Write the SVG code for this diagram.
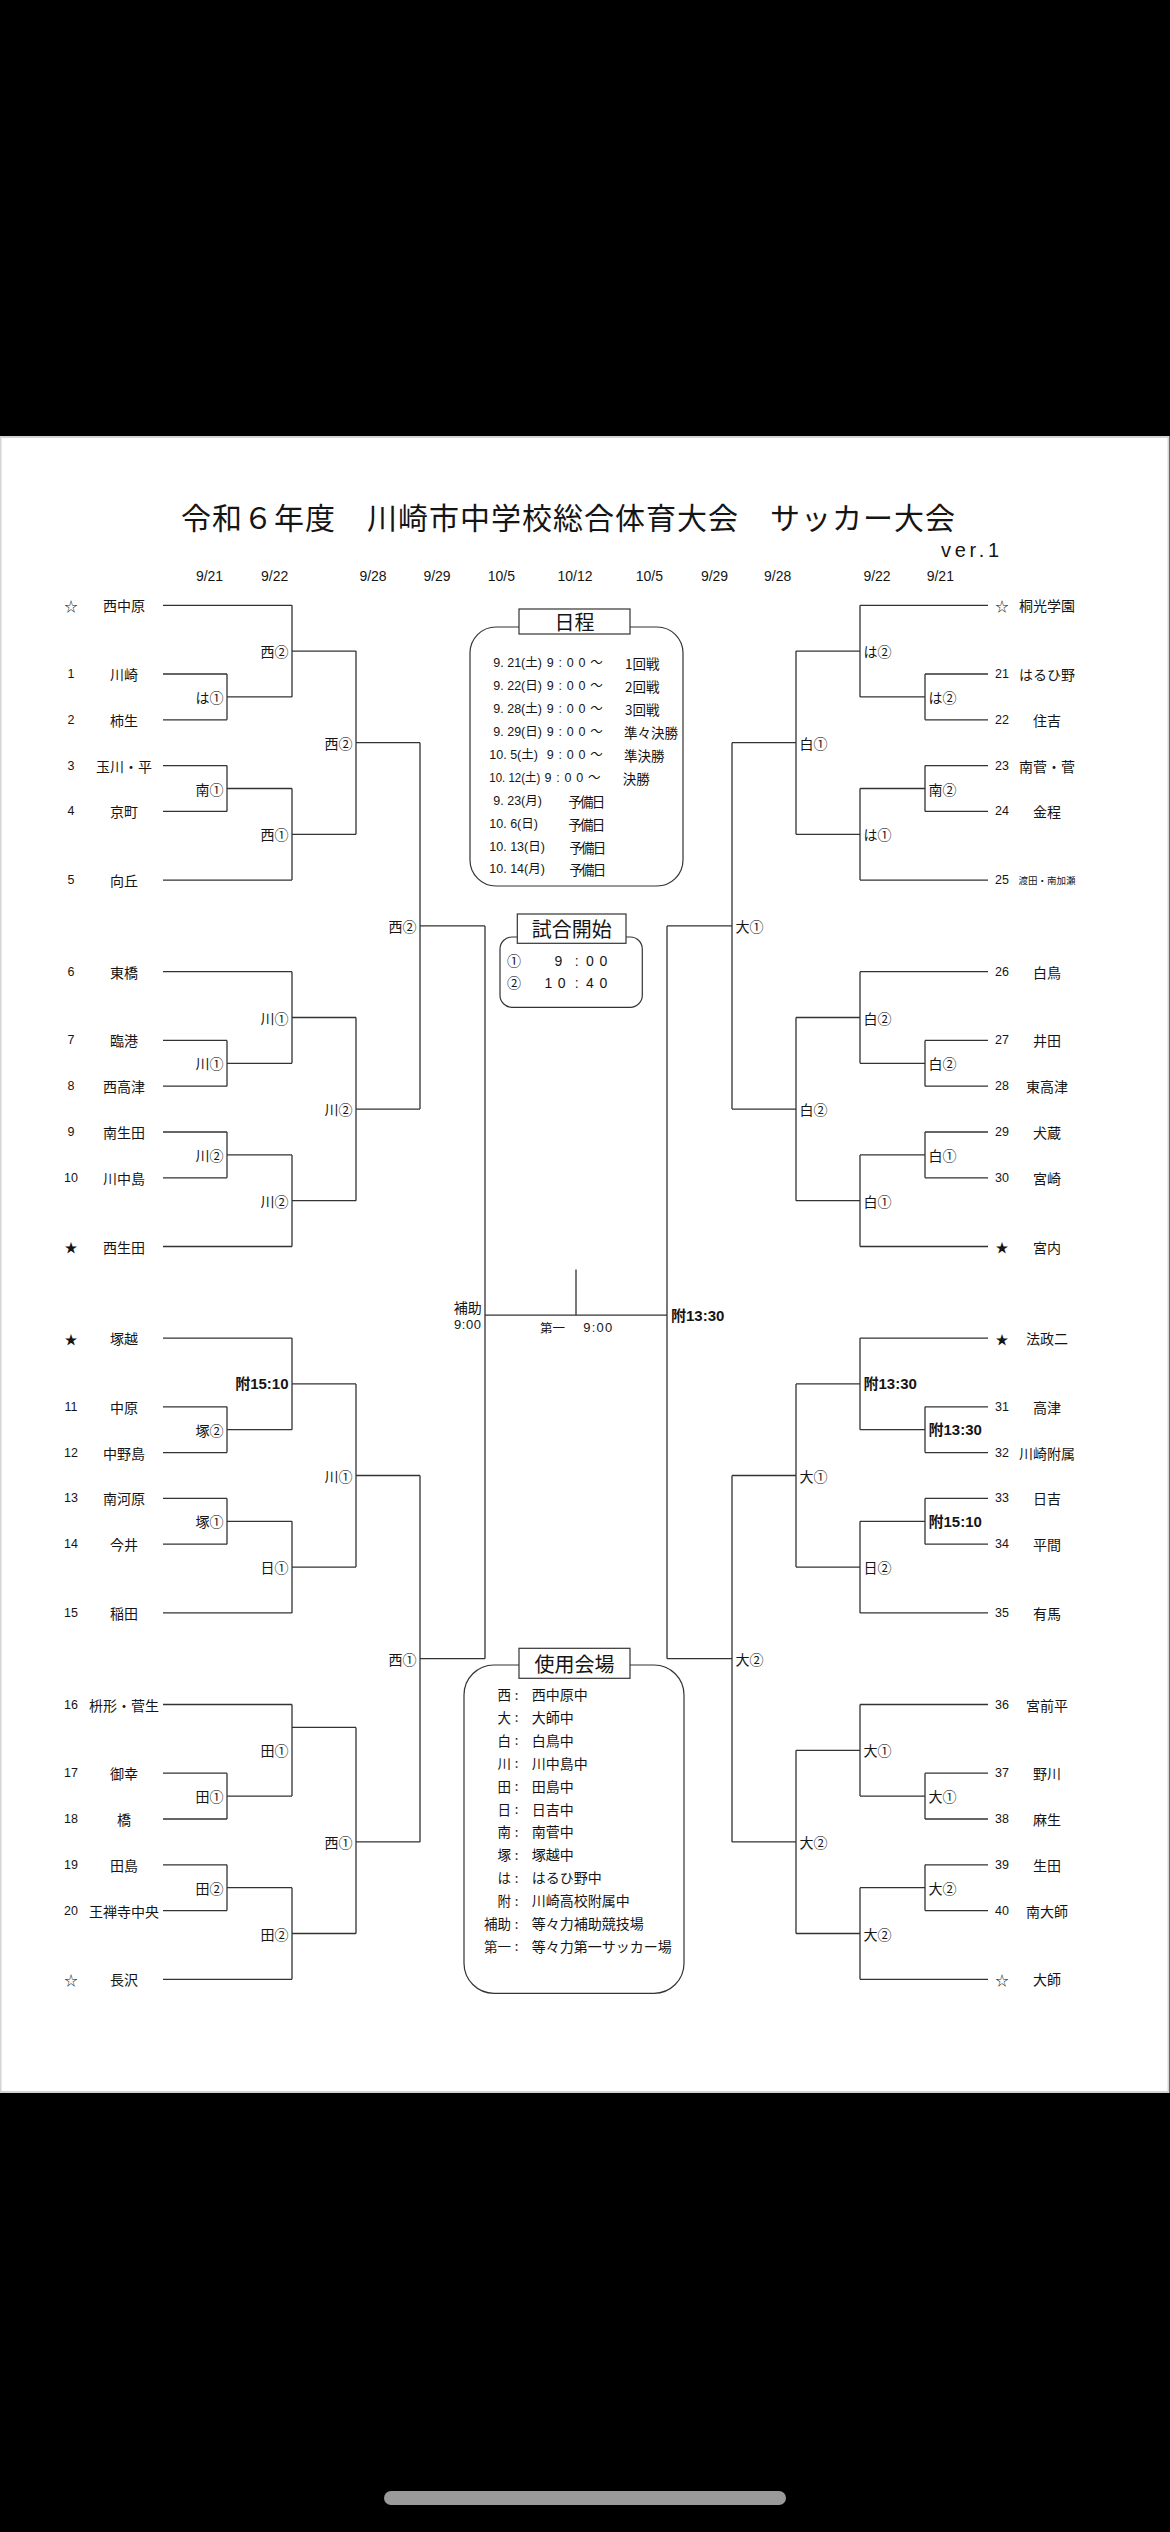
<svg xmlns="http://www.w3.org/2000/svg" width="1170" height="2532" viewBox="0 0 1170 2532">
<style>
text{fill:#151515}
.ln{fill:none;stroke:#333;stroke-width:1.3}
.box{fill:#fff;stroke:#333;stroke-width:1.2}
.nm{font-family:"Noto Sans CJK JP",sans-serif;font-size:14px;text-anchor:middle;dominant-baseline:central}
.sm{font-family:"Noto Sans CJK JP",sans-serif;font-size:9.5px;text-anchor:middle;dominant-baseline:central}
.no{font-family:"Liberation Sans","Noto Sans CJK JP",sans-serif;font-size:12.5px;text-anchor:middle;dominant-baseline:central}
.mk{font-family:"Noto Sans CJK JP",sans-serif;font-size:13px;text-anchor:middle;dominant-baseline:central}
.jl{font-family:"Noto Sans CJK JP",sans-serif;font-size:14px;text-anchor:end;dominant-baseline:central}
.jr{font-family:"Noto Sans CJK JP",sans-serif;font-size:14px;text-anchor:start;dominant-baseline:central}
.bl{font-family:"Liberation Sans","Noto Sans CJK JP",sans-serif;font-weight:bold;font-size:15px;text-anchor:end;dominant-baseline:central}
.br{font-family:"Liberation Sans","Noto Sans CJK JP",sans-serif;font-weight:bold;font-size:15px;text-anchor:start;dominant-baseline:central}
.dt{font-family:"Liberation Sans",sans-serif;font-size:14px;text-anchor:middle;dominant-baseline:central}
.sc{font-family:"Noto Sans CJK JP",sans-serif;font-size:13.5px;dominant-baseline:central}
.sd{font-family:"Liberation Sans","Noto Sans CJK JP",sans-serif;font-size:12.5px;dominant-baseline:central}
.sn{font-family:"Liberation Sans","Noto Sans CJK JP",sans-serif;font-size:14px;text-anchor:middle;dominant-baseline:central}
.hd{font-family:"Noto Sans CJK JP",sans-serif;font-size:20px;text-anchor:middle;dominant-baseline:central}
.vn{font-family:"Noto Sans CJK JP",sans-serif;font-size:14px;dominant-baseline:central}
.vc{font-family:"Noto Sans CJK JP",sans-serif;font-size:13px;text-anchor:middle;dominant-baseline:central}
.va{font-family:"Noto Sans CJK JP",sans-serif;font-size:13.5px;text-anchor:end;dominant-baseline:central}
</style>
<rect x="0" y="0" width="1170" height="2532" fill="#000"/>
<rect x="0.5" y="437" width="1168" height="1655" fill="#fff" stroke="#d4d4d4" stroke-width="2"/>
<rect x="384" y="2491" width="402" height="14" rx="7" fill="#9a9a9a"/>

<g id="title">
<text x="181" y="516" font-family="Noto Sans CJK JP, sans-serif" font-size="30" dominant-baseline="central" textLength="774" lengthAdjust="spacing">令和６年度　川崎市中学校総合体育大会　サッカー大会</text>
<text x="941" y="550" font-family="Liberation Sans, sans-serif" font-size="20" dominant-baseline="central" textLength="58" lengthAdjust="spacing">ver.1</text>
</g>

<g id="dates">
<text class="dt" x="209.5" y="576">9/21</text>
<text class="dt" x="274.6" y="576">9/22</text>
<text class="dt" x="373" y="576">9/28</text>
<text class="dt" x="437" y="576">9/29</text>
<text class="dt" x="501.3" y="576">10/5</text>
<text class="dt" x="575" y="576">10/12</text>
<text class="dt" x="649.4" y="576">10/5</text>
<text class="dt" x="714.5" y="576">9/29</text>
<text class="dt" x="777.6" y="576">9/28</text>
<text class="dt" x="877" y="576">9/22</text>
<text class="dt" x="940.3" y="576">9/21</text>
</g>

<g id="connectors" class="ln">
<path d="M163 605.3H292M163 674H227M163 719.8H227M163 765.6H227M163 811.4H227M163 880.1H292M163 971.7H292M163 1040.4H227M163 1086.2H227M163 1132H227M163 1177.8H227M163 1246.5H292M163 1338.1H292M163 1406.8H227M163 1452.6H227M163 1498.4H227M163 1544.2H227M163 1612.9H292M163 1704.5H292M163 1773.2H227M163 1819H227M163 1864.8H227M163 1910.6H227M163 1979.3H292"/>
<path d="M227 674V719.8M227 696.9H292M227 765.6V811.4M227 788.5H292M227 1040.4V1086.2M227 1063.3H292M227 1132V1177.8M227 1154.9H292M227 1406.8V1452.6M227 1429.7H292M227 1498.4V1544.2M227 1521.3H292M227 1773.2V1819M227 1796.1H292M227 1864.8V1910.6M227 1887.7H292"/>
<path d="M292 605.3V696.9M292 651.1H356M292 788.5V880.1M292 834.3H356M292 971.7V1063.3M292 1017.5H356M292 1154.9V1246.5M292 1200.7H356M292 1338.1V1429.7M292 1383.9H356M292 1521.3V1612.9M292 1567.1H356M292 1704.5V1796.1M292 1727.4H356M292 1887.7V1979.3M292 1933.5H356"/>
<path d="M356 651.1V834.3M356 742.7H420M356 1017.5V1200.7M356 1109.1H420M356 1383.9V1567.1M356 1475.5H420M356 1727.4V1933.5M356 1841.9H420"/>
<path d="M420 742.7V1109.1M420 925.9H485M420 1475.5V1841.9M420 1658.7H485"/>
<path d="M485 925.9V1658.7M667 925.9V1658.7M485 1315.2H667M576 1269.4V1315.2"/>
<path d="M988 605.3H860M988 674H925M988 719.8H925M988 765.6H925M988 811.4H925M988 880.1H860M988 971.7H860M988 1040.4H925M988 1086.2H925M988 1132H925M988 1177.8H925M988 1246.5H860M988 1338.1H860M988 1406.8H925M988 1452.6H925M988 1498.4H925M988 1544.2H925M988 1612.9H860M988 1704.5H860M988 1773.2H925M988 1819H925M988 1864.8H925M988 1910.6H925M988 1979.3H860"/>
<path d="M925 674V719.8M925 696.9H860M925 765.6V811.4M925 788.5H860M925 1040.4V1086.2M925 1063.3H860M925 1132V1177.8M925 1154.9H860M925 1406.8V1452.6M925 1429.7H860M925 1498.4V1544.2M925 1521.3H860M925 1773.2V1819M925 1796.1H860M925 1864.8V1910.6M925 1887.7H860"/>
<path d="M860 605.3V696.9M860 651.1H796M860 788.5V880.1M860 834.3H796M860 971.7V1063.3M860 1017.5H796M860 1154.9V1246.5M860 1200.7H796M860 1338.1V1429.7M860 1383.9H796M860 1521.3V1612.9M860 1567.1H796M860 1704.5V1796.1M860 1750.3H796M860 1887.7V1979.3M860 1933.5H796"/>
<path d="M796 651.1V834.3M796 742.7H732M796 1017.5V1200.7M796 1109.1H732M796 1383.9V1567.1M796 1475.5H732M796 1750.3V1933.5M796 1841.9H732"/>
<path d="M732 742.7V1109.1M732 925.9H667M732 1475.5V1841.9M732 1658.7H667"/>
</g>

<g id="teams-left">
<g id="tl-nishinakahara"><text class="mk" x="71" y="605.3">☆</text><text class="nm" x="124" y="605.3">西中原</text></g>
<g id="tl-1"><text class="no" x="71" y="674">1</text><text class="nm" x="124" y="674">川崎</text></g>
<g id="tl-2"><text class="no" x="71" y="719.8">2</text><text class="nm" x="124" y="719.8">柿生</text></g>
<g id="tl-3"><text class="no" x="71" y="765.6">3</text><text class="nm" x="124" y="765.6">玉川・平</text></g>
<g id="tl-4"><text class="no" x="71" y="811.4">4</text><text class="nm" x="124" y="811.4">京町</text></g>
<g id="tl-5"><text class="no" x="71" y="880.1">5</text><text class="nm" x="124" y="880.1">向丘</text></g>
<g id="tl-6"><text class="no" x="71" y="971.7">6</text><text class="nm" x="124" y="971.7">東橋</text></g>
<g id="tl-7"><text class="no" x="71" y="1040.4">7</text><text class="nm" x="124" y="1040.4">臨港</text></g>
<g id="tl-8"><text class="no" x="71" y="1086.2">8</text><text class="nm" x="124" y="1086.2">西高津</text></g>
<g id="tl-9"><text class="no" x="71" y="1132">9</text><text class="nm" x="124" y="1132">南生田</text></g>
<g id="tl-10"><text class="no" x="71" y="1177.8">10</text><text class="nm" x="124" y="1177.8">川中島</text></g>
<g id="tl-nishiikuta"><text class="mk" x="71" y="1246.5">★</text><text class="nm" x="124" y="1246.5">西生田</text></g>
<g id="tl-tsukagoshi"><text class="mk" x="71" y="1338.1">★</text><text class="nm" x="124" y="1338.1">塚越</text></g>
<g id="tl-11"><text class="no" x="71" y="1406.8">11</text><text class="nm" x="124" y="1406.8">中原</text></g>
<g id="tl-12"><text class="no" x="71" y="1452.6">12</text><text class="nm" x="124" y="1452.6">中野島</text></g>
<g id="tl-13"><text class="no" x="71" y="1498.4">13</text><text class="nm" x="124" y="1498.4">南河原</text></g>
<g id="tl-14"><text class="no" x="71" y="1544.2">14</text><text class="nm" x="124" y="1544.2">今井</text></g>
<g id="tl-15"><text class="no" x="71" y="1612.9">15</text><text class="nm" x="124" y="1612.9">稲田</text></g>
<g id="tl-16"><text class="no" x="71" y="1704.5">16</text><text class="nm" x="124" y="1704.5">枡形・菅生</text></g>
<g id="tl-17"><text class="no" x="71" y="1773.2">17</text><text class="nm" x="124" y="1773.2">御幸</text></g>
<g id="tl-18"><text class="no" x="71" y="1819">18</text><text class="nm" x="124" y="1819">橋</text></g>
<g id="tl-19"><text class="no" x="71" y="1864.8">19</text><text class="nm" x="124" y="1864.8">田島</text></g>
<g id="tl-20"><text class="no" x="71" y="1910.6">20</text><text class="nm" x="124" y="1910.6">王禅寺中央</text></g>
<g id="tl-nagasawa"><text class="mk" x="71" y="1979.3">☆</text><text class="nm" x="124" y="1979.3">長沢</text></g>
</g>

<g id="teams-right">
<g id="tr-toko"><text class="mk" x="1002" y="605.3">☆</text><text class="nm" x="1047" y="605.3">桐光学園</text></g>
<g id="tr-21"><text class="no" x="1002" y="674">21</text><text class="nm" x="1047" y="674">はるひ野</text></g>
<g id="tr-22"><text class="no" x="1002" y="719.8">22</text><text class="nm" x="1047" y="719.8">住吉</text></g>
<g id="tr-23"><text class="no" x="1002" y="765.6">23</text><text class="nm" x="1047" y="765.6">南菅・菅</text></g>
<g id="tr-24"><text class="no" x="1002" y="811.4">24</text><text class="nm" x="1047" y="811.4">金程</text></g>
<g id="tr-25"><text class="no" x="1002" y="880.1">25</text><text class="sm" x="1047" y="880.1">渡田・南加瀬</text></g>
<g id="tr-26"><text class="no" x="1002" y="971.7">26</text><text class="nm" x="1047" y="971.7">白鳥</text></g>
<g id="tr-27"><text class="no" x="1002" y="1040.4">27</text><text class="nm" x="1047" y="1040.4">井田</text></g>
<g id="tr-28"><text class="no" x="1002" y="1086.2">28</text><text class="nm" x="1047" y="1086.2">東高津</text></g>
<g id="tr-29"><text class="no" x="1002" y="1132">29</text><text class="nm" x="1047" y="1132">犬蔵</text></g>
<g id="tr-30"><text class="no" x="1002" y="1177.8">30</text><text class="nm" x="1047" y="1177.8">宮崎</text></g>
<g id="tr-miyauchi"><text class="mk" x="1002" y="1246.5">★</text><text class="nm" x="1047" y="1246.5">宮内</text></g>
<g id="tr-hosei"><text class="mk" x="1002" y="1338.1">★</text><text class="nm" x="1047" y="1338.1">法政二</text></g>
<g id="tr-31"><text class="no" x="1002" y="1406.8">31</text><text class="nm" x="1047" y="1406.8">高津</text></g>
<g id="tr-32"><text class="no" x="1002" y="1452.6">32</text><text class="nm" x="1047" y="1452.6">川崎附属</text></g>
<g id="tr-33"><text class="no" x="1002" y="1498.4">33</text><text class="nm" x="1047" y="1498.4">日吉</text></g>
<g id="tr-34"><text class="no" x="1002" y="1544.2">34</text><text class="nm" x="1047" y="1544.2">平間</text></g>
<g id="tr-35"><text class="no" x="1002" y="1612.9">35</text><text class="nm" x="1047" y="1612.9">有馬</text></g>
<g id="tr-36"><text class="no" x="1002" y="1704.5">36</text><text class="nm" x="1047" y="1704.5">宮前平</text></g>
<g id="tr-37"><text class="no" x="1002" y="1773.2">37</text><text class="nm" x="1047" y="1773.2">野川</text></g>
<g id="tr-38"><text class="no" x="1002" y="1819">38</text><text class="nm" x="1047" y="1819">麻生</text></g>
<g id="tr-39"><text class="no" x="1002" y="1864.8">39</text><text class="nm" x="1047" y="1864.8">生田</text></g>
<g id="tr-40"><text class="no" x="1002" y="1910.6">40</text><text class="nm" x="1047" y="1910.6">南大師</text></g>
<g id="tr-daishi"><text class="mk" x="1002" y="1979.3">☆</text><text class="nm" x="1047" y="1979.3">大師</text></g>
</g>

<g id="matches-left">
<g id="ml1-a"><text class="jl" x="223.5" y="696.9">は①</text></g>
<g id="ml1-b"><text class="jl" x="223.5" y="788.5">南①</text></g>
<g id="ml1-c"><text class="jl" x="223.5" y="1063.3">川①</text></g>
<g id="ml1-d"><text class="jl" x="223.5" y="1154.9">川②</text></g>
<g id="ml1-e"><text class="jl" x="223.5" y="1429.7">塚②</text></g>
<g id="ml1-f"><text class="jl" x="223.5" y="1521.3">塚①</text></g>
<g id="ml1-g"><text class="jl" x="223.5" y="1796.1">田①</text></g>
<g id="ml1-h"><text class="jl" x="223.5" y="1887.7">田②</text></g>
<g id="ml2-a"><text class="jl" x="288.5" y="651.1">西②</text></g>
<g id="ml2-b"><text class="jl" x="288.5" y="834.3">西①</text></g>
<g id="ml2-c"><text class="jl" x="288.5" y="1017.5">川①</text></g>
<g id="ml2-d"><text class="jl" x="288.5" y="1200.7">川②</text></g>
<g id="ml2-e"><text class="bl" x="288.5" y="1383.9">附15:10</text></g>
<g id="ml2-f"><text class="jl" x="288.5" y="1567.1">日①</text></g>
<g id="ml2-g"><text class="jl" x="288.5" y="1750.3">田①</text></g>
<g id="ml2-h"><text class="jl" x="288.5" y="1933.5">田②</text></g>
<g id="ml3-a"><text class="jl" x="352.5" y="742.7">西②</text></g>
<g id="ml3-b"><text class="jl" x="352.5" y="1109.1">川②</text></g>
<g id="ml3-c"><text class="jl" x="352.5" y="1475.5">川①</text></g>
<g id="ml3-d"><text class="jl" x="352.5" y="1841.9">西①</text></g>
<g id="ml4-a"><text class="jl" x="416.5" y="925.9">西②</text></g>
<g id="ml4-b"><text class="jl" x="416.5" y="1658.7">西①</text></g>
</g>

<g id="matches-right">
<g id="mr1-a"><text class="jr" x="928.5" y="696.9">は②</text></g>
<g id="mr1-b"><text class="jr" x="928.5" y="788.5">南②</text></g>
<g id="mr1-c"><text class="jr" x="928.5" y="1063.3">白②</text></g>
<g id="mr1-d"><text class="jr" x="928.5" y="1154.9">白①</text></g>
<g id="mr1-e"><text class="br" x="928.5" y="1429.7">附13:30</text></g>
<g id="mr1-f"><text class="br" x="928.5" y="1521.3">附15:10</text></g>
<g id="mr1-g"><text class="jr" x="928.5" y="1796.1">大①</text></g>
<g id="mr1-h"><text class="jr" x="928.5" y="1887.7">大②</text></g>
<g id="mr2-a"><text class="jr" x="863.5" y="651.1">は②</text></g>
<g id="mr2-b"><text class="jr" x="863.5" y="834.3">は①</text></g>
<g id="mr2-c"><text class="jr" x="863.5" y="1017.5">白②</text></g>
<g id="mr2-d"><text class="jr" x="863.5" y="1200.7">白①</text></g>
<g id="mr2-e"><text class="br" x="863.5" y="1383.9">附13:30</text></g>
<g id="mr2-f"><text class="jr" x="863.5" y="1567.1">日②</text></g>
<g id="mr2-g"><text class="jr" x="863.5" y="1750.3">大①</text></g>
<g id="mr2-h"><text class="jr" x="863.5" y="1933.5">大②</text></g>
<g id="mr3-a"><text class="jr" x="799.5" y="742.7">白①</text></g>
<g id="mr3-b"><text class="jr" x="799.5" y="1109.1">白②</text></g>
<g id="mr3-c"><text class="jr" x="799.5" y="1475.5">大①</text></g>
<g id="mr3-d"><text class="jr" x="799.5" y="1841.9">大②</text></g>
<g id="mr4-a"><text class="jr" x="735.5" y="925.9">大①</text></g>
<g id="mr4-b"><text class="jr" x="735.5" y="1658.7">大②</text></g>
</g>

<g id="final">
<text class="jl" x="481.7" y="1307" font-size="13.5">補助</text>
<text x="481.7" y="1324" font-family="Liberation Sans, sans-serif" font-size="13" text-anchor="end" dominant-baseline="central" letter-spacing="0.6">9:00</text>
<text x="540" y="1327" font-family="Noto Sans CJK JP, sans-serif" font-size="12.5" dominant-baseline="central">第一</text>
<text x="583.3" y="1327" font-family="Liberation Sans, sans-serif" font-size="13" dominant-baseline="central" textLength="29" lengthAdjust="spacing">9:00</text>
<text class="br" x="671" y="1315">附13:30</text>
</g>

<g id="schedule">
<rect class="box" x="470" y="627" width="213" height="259" rx="26"/>
<rect class="box" x="519" y="609" width="111" height="25"/>
<text class="hd" x="574.5" y="621.5">日程</text>
<text class="sd" x="493.3" y="663.3">9. 21(土)</text><text class="sd" x="546.7" y="663.3" textLength="56" lengthAdjust="spacing">9:00～</text><text class="sc" x="625" y="663.3">1回戦</text>
<text class="sd" x="493.3" y="686.2">9. 22(日)</text><text class="sd" x="546.7" y="686.2" textLength="56" lengthAdjust="spacing">9:00～</text><text class="sc" x="625" y="686.2">2回戦</text>
<text class="sd" x="493.3" y="709.1">9. 28(土)</text><text class="sd" x="546.7" y="709.1" textLength="56" lengthAdjust="spacing">9:00～</text><text class="sc" x="625" y="709.1">3回戦</text>
<text class="sd" x="493.3" y="732">9. 29(日)</text><text class="sd" x="546.7" y="732" textLength="56" lengthAdjust="spacing">9:00～</text><text class="sc" x="624" y="732" font-size="14">準々決勝</text>
<text class="sd" x="489.3" y="754.9">10.  5(土)</text><text class="sd" x="546.7" y="754.9" textLength="56" lengthAdjust="spacing">9:00～</text><text class="sc" x="624" y="754.9" font-size="14">準決勝</text>
<text class="sd" x="489.3" y="777.8" textLength="51" lengthAdjust="spacingAndGlyphs">10. 12(土)</text><text class="sd" x="544.5" y="777.8" textLength="56" lengthAdjust="spacing">9:00～</text><text class="sc" x="622.7" y="777.8" font-size="14">決勝</text>
<text class="sd" x="493.3" y="800.7">9. 23(月)</text><text class="sc" x="568.3" y="800.7" textLength="37" lengthAdjust="spacing">予備日</text>
<text class="sd" x="489.3" y="823.6">10.  6(日)</text><text class="sc" x="568.3" y="823.6" textLength="37" lengthAdjust="spacing">予備日</text>
<text class="sd" x="489.3" y="846.5">10. 13(日)</text><text class="sc" x="569.3" y="846.5" textLength="37" lengthAdjust="spacing">予備日</text>
<text class="sd" x="489.3" y="869.4">10. 14(月)</text><text class="sc" x="569.3" y="869.4" textLength="37" lengthAdjust="spacing">予備日</text>
</g>

<g id="kickoff">
<rect class="box" x="500" y="937" width="142.3" height="70.3" rx="12"/>
<rect class="box" x="517.3" y="914" width="108.7" height="29.3"/>
<text class="hd" x="571.7" y="928.7">試合開始</text>
<text class="sn" x="514" y="960.7">①</text>
<text class="sn" x="558.3 576.7 590 603.3" y="960.7">9:00</text>
<text class="sn" x="514" y="983.3">②</text>
<text class="sn" x="548.3 561.7 576.7 590 603.3" y="983.3">10:40</text>
</g>

<g id="venues">
<rect class="box" x="464" y="1665" width="220" height="328.3" rx="30"/>
<rect class="box" x="519" y="1648.3" width="111" height="30"/>
<text class="hd" x="574.5" y="1663.3">使用会場</text>
<text class="va" x="511" y="1694">西</text><text class="vc" x="516.5" y="1694">:</text><text class="vn" x="531.7" y="1694">西中原中</text>
<text class="va" x="511" y="1716.9">大</text><text class="vc" x="516.5" y="1716.9">:</text><text class="vn" x="531.7" y="1716.9">大師中</text>
<text class="va" x="511" y="1739.8">白</text><text class="vc" x="516.5" y="1739.8">:</text><text class="vn" x="531.7" y="1739.8">白鳥中</text>
<text class="va" x="511" y="1762.7">川</text><text class="vc" x="516.5" y="1762.7">:</text><text class="vn" x="531.7" y="1762.7">川中島中</text>
<text class="va" x="511" y="1785.6">田</text><text class="vc" x="516.5" y="1785.6">:</text><text class="vn" x="531.7" y="1785.6">田島中</text>
<text class="va" x="511" y="1808.5">日</text><text class="vc" x="516.5" y="1808.5">:</text><text class="vn" x="531.7" y="1808.5">日吉中</text>
<text class="va" x="511" y="1831.4">南</text><text class="vc" x="516.5" y="1831.4">:</text><text class="vn" x="531.7" y="1831.4">南菅中</text>
<text class="va" x="511" y="1854.3">塚</text><text class="vc" x="516.5" y="1854.3">:</text><text class="vn" x="531.7" y="1854.3">塚越中</text>
<text class="va" x="511" y="1877.2">は</text><text class="vc" x="516.5" y="1877.2">:</text><text class="vn" x="531.7" y="1877.2">はるひ野中</text>
<text class="va" x="511" y="1900.1">附</text><text class="vc" x="516.5" y="1900.1">:</text><text class="vn" x="531.7" y="1900.1">川崎高校附属中</text>
<text class="va" x="511" y="1923">補助</text><text class="vc" x="516.5" y="1923">:</text><text class="vn" x="531.7" y="1923">等々力補助競技場</text>
<text class="va" x="511" y="1945.9">第一</text><text class="vc" x="516.5" y="1945.9">:</text><text class="vn" x="531.7" y="1945.9">等々力第一サッカー場</text>
</g>
</svg>
